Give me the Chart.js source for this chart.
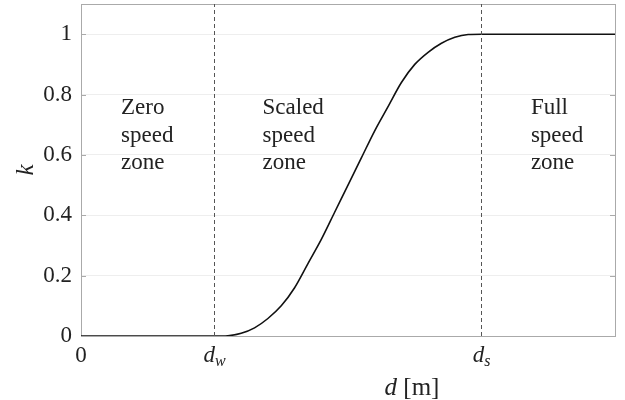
<!DOCTYPE html>
<html>
<head>
<meta charset="utf-8">
<script src="https://cdn.jsdelivr.net/npm/chart.js@4"></script>
<style>
  body { margin: 0; background: #fff; }
  #wrap { width: 625px; height: 400px; }
</style>
</head>
<body>
<div id="wrap"><canvas id="chart"></canvas></div>
<script>
// distance d (with d_w = 1, d_s = 3) and gain k
const dValues = [0, 1, 1.1, 1.2, 1.3, 1.4, 1.5, 1.6, 1.7, 1.8, 1.9, 2.0,
  2.1, 2.2, 2.3, 2.4, 2.5, 2.6, 2.7, 2.8, 2.9, 3.0, 4.0];
const kValues = [0, 0, 0.001, 0.009, 0.027, 0.058, 0.10, 0.16, 0.24, 0.32, 0.41, 0.50,
  0.59, 0.68, 0.76, 0.84, 0.90, 0.94, 0.97, 0.99, 0.999, 1, 1];
const yTicks = [0, 0.2, 0.4, 0.6, 0.8, 1];
const xTickValues = [0, 1, 3];
const xTickLabels = [["0", ""], ["d", "w"], ["d", "s"]];
const markerX = [1, 3];
const zoneX = [0.3, 1.36, 3.37];
const zoneLabels = [["Zero", "speed", "zone"], ["Scaled", "speed", "zone"], ["Full", "speed", "zone"]];

const serif = "'Liberation Serif', 'DejaVu Serif', serif";

const curve = dValues.map((d, i) => ({ x: d, y: kValues[i] }));

const markers = markerX.map((x) => ({
  type: "scatter",
  data: [{ x: x, y: 0 }, { x: x, y: 1.1 }],
  showLine: true,
  borderColor: "#555",
  borderWidth: 1,
  borderDash: [4, 3],
  pointRadius: 0,
}));

const extras = {
  id: "extras",
  beforeDatasetsDraw(chart) {
    const { ctx, chartArea: a } = chart;
    const ys = chart.scales.y;
    ctx.save();
    ctx.strokeStyle = "#aaa";
    ctx.lineWidth = 1;
    ctx.strokeRect(a.left + 0.5, a.top + 0.5, a.right - a.left, a.bottom - a.top);
    // small inward ticks on both sides
    ctx.beginPath();
    yTicks.forEach((v) => {
      const py = Math.round(ys.getPixelForValue(v)) + 0.5;
      ctx.moveTo(a.left, py);
      ctx.lineTo(a.left + 5, py);
      ctx.moveTo(a.right - 5, py);
      ctx.lineTo(a.right, py);
    });
    ctx.stroke();
    ctx.restore();
  },
  afterDraw(chart) {
    const { ctx, chartArea: a } = chart;
    const xs = chart.scales.x;
    const ys = chart.scales.y;
    ctx.save();
    ctx.fillStyle = "#222";
    ctx.textBaseline = "middle";

    // x tick labels with subscripts
    xTickValues.forEach((v, i) => {
      const px = xs.getPixelForValue(v);
      const [main, sub] = xTickLabels[i];
      ctx.font = (sub ? "italic " : "") + "23px " + serif;
      const w1 = ctx.measureText(main).width;
      ctx.font = "italic 16px " + serif;
      const w2 = sub ? ctx.measureText(sub).width : 0;
      const x0 = px - (w1 + w2) / 2;
      ctx.textAlign = "left";
      ctx.font = (sub ? "italic " : "") + "23px " + serif;
      ctx.fillText(main, x0, a.bottom + 20);
      if (sub) {
        ctx.font = "italic 16px " + serif;
        ctx.fillText(sub, x0 + w1, a.bottom + 26);
      }
    });

    // x axis title: d [m]
    ctx.font = "italic 25px " + serif;
    const wd = ctx.measureText("d").width;
    ctx.font = "25px " + serif;
    const wm = ctx.measureText(" [m]").width;
    const cx = 412;
    ctx.textAlign = "left";
    ctx.font = "italic 25px " + serif;
    ctx.fillText("d", cx - (wd + wm) / 2, a.bottom + 52);
    ctx.font = "25px " + serif;
    ctx.fillText(" [m]", cx - (wd + wm) / 2 + wd, a.bottom + 52);

    // y axis title: k
    ctx.save();
    ctx.translate(26, (a.top + a.bottom) / 2);
    ctx.rotate(-Math.PI / 2);
    ctx.textAlign = "center";
    ctx.font = "italic 25px " + serif;
    ctx.fillText("k", 0, 0);
    ctx.restore();

    // zone notes
    ctx.font = "23px " + serif;
    ctx.textAlign = "left";
    zoneLabels.forEach((lines, i) => {
      const px = xs.getPixelForValue(zoneX[i]);
      lines.forEach((t, j) => {
        ctx.fillText(t, px, 108 + j * 27.5);
      });
    });
    ctx.restore();
  },
};

new Chart(document.getElementById("chart"), {
  type: "scatter",
  data: {
    datasets: [
      ...markers,
      {
        type: "scatter",
        data: curve,
        showLine: true,
        borderColor: "#111",
        borderWidth: 1.6,
        pointRadius: 0,
        cubicInterpolationMode: "monotone",
      },
    ],
  },
  options: {
    responsive: true,
    maintainAspectRatio: false,
    animation: false,
    layout: { padding: { top: 4, right: 10, bottom: 0, left: 0 } },
    plugins: {
      legend: { display: false },
      tooltip: { enabled: false },
    },
    scales: {
      x: {
        type: "linear",
        min: 0,
        max: 4,
        grid: { display: false },
        border: { display: false },
        ticks: { display: false },
        afterFit(scale) {
          scale.height = 64;
        },
      },
      y: {
        type: "linear",
        min: 0,
        max: 1.1,
        afterBuildTicks(scale) {
          scale.ticks = yTicks.map((v) => ({ value: v }));
        },
        grid: { color: "#eeeeee", drawTicks: false },
        border: { display: false },
        ticks: {
          padding: 9,
          color: "#222",
          font: { family: serif, size: 23 },
          callback: (v) => (Number.isInteger(v) ? String(v) : v.toFixed(1)),
        },
        afterFit(scale) {
          scale.width = 81;
          scale.paddingTop = 0;
          scale.paddingBottom = 0;
        },
      },
    },
  },
  plugins: [extras],
});
</script>
</body>
</html>
